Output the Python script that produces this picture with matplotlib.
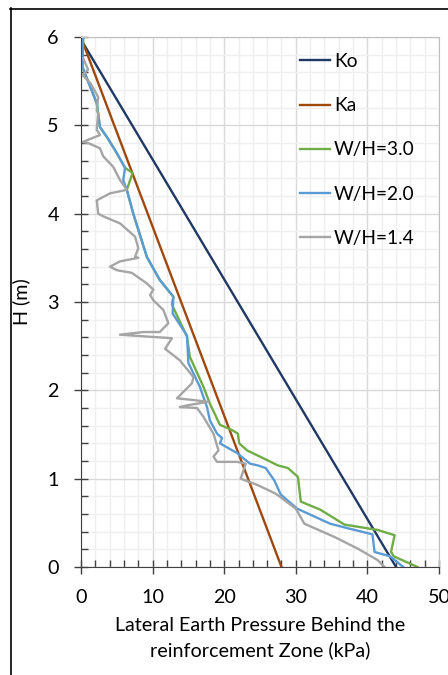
import matplotlib
matplotlib.use("Agg")
import matplotlib.pyplot as plt
from matplotlib.lines import Line2D
from matplotlib.ticker import MultipleLocator

plt.rcParams['font.family'] = ['Lato', 'DejaVu Sans']

# theoretical lines (pressure kPa, height m)
ko_x = [0.3, 44.0]
ko_h = [5.93, 0.0]
ka_x = [0.3, 28.0]
ka_h = [5.93, 0.0]

# W/H = 3.0
wh30_x = [0.3, 0.2, 2.2, 2.65, 3.6, 4.75, 6.15, 7.2, 6.4, 7.3, 9.2, 11.0, 12.9, 12.7,
          14.8, 15.2, 17.1, 18.0, 19.4, 21.1, 21.9, 22.1, 23.2, 26.0, 27.5, 28.9, 30.3,
          30.7, 33.4, 36.8, 41.4, 43.8, 43.3, 43.7, 47.0]
wh30_h = [6.0, 5.66, 5.25, 4.98, 4.87, 4.72, 4.52, 4.46, 4.27, 4.0, 3.51, 3.25, 3.06, 2.97,
          2.61, 2.38, 2.04, 1.85, 1.61, 1.55, 1.51, 1.40, 1.32, 1.21, 1.15, 1.12, 1.02,
          0.74, 0.65, 0.48, 0.42, 0.36, 0.17, 0.12, 0.0]

# W/H = 2.0
wh20_x = [0.3, 0.2, 2.2, 2.65, 3.6, 4.75, 6.15, 5.9, 6.4, 7.3, 9.2, 11.0, 12.9, 12.8,
          14.8, 15.0, 16.6, 17.6, 18.0, 19.0, 19.7, 19.4, 21.8, 23.6, 24.7, 25.8, 27.0,
          27.9, 30.2, 34.8, 37.2, 40.7, 41.0, 43.2, 45.0]
wh20_h = [6.0, 5.66, 5.25, 4.98, 4.87, 4.72, 4.52, 4.38, 4.27, 4.0, 3.51, 3.25, 3.06, 2.87,
          2.62, 2.31, 2.04, 1.81, 1.66, 1.51, 1.46, 1.40, 1.29, 1.17, 1.15, 1.12, 0.98,
          0.82, 0.66, 0.49, 0.44, 0.37, 0.17, 0.12, 0.0]

# W/H = 1.4
wh14_x = [0.3, 1.0, 0.2, 1.3, 2.4, 2.2, 2.4, 2.2, 2.65, 0.8, 0.2, 1.0, 2.65, 3.1, 4.5,
          5.45, 6.4, 4.05, 2.2, 2.4, 3.1, 5.45, 7.55, 8.0, 7.55, 8.0, 5.45, 4.05, 5.0,
          7.1, 9.2, 10.1, 9.65, 10.1, 11.5, 12.2, 11.0, 8.7, 5.45, 12.7, 11.75, 13.8,
          15.7, 15.5, 13.4, 15.7, 17.8, 14.8, 13.8, 16.2, 17.1, 18.5, 19.2, 18.5, 19.0,
          21.8, 23.0, 22.3, 24.6, 27.2, 30.0, 31.2, 35.4, 38.6, 41.4, 42.4]
wh14_h = [5.76, 5.63, 5.57, 5.48, 5.32, 5.17, 5.14, 4.95, 4.89, 4.83, 4.81, 4.80, 4.74,
          4.65, 4.53, 4.38, 4.27, 4.23, 4.15, 4.0, 3.97, 3.89, 3.74, 3.61, 3.51, 3.50,
          3.46, 3.40, 3.36, 3.33, 3.21, 3.14, 3.08, 3.02, 2.91, 2.76, 2.66, 2.66, 2.63,
          2.59, 2.47, 2.34, 2.15, 2.08, 1.91, 1.89, 1.87, 1.83, 1.81, 1.80, 1.70, 1.51,
          1.32, 1.25, 1.19, 1.19, 1.17, 1.00, 0.93, 0.83, 0.66, 0.49, 0.34, 0.21, 0.08, 0.0]

fig = plt.figure(figsize=(4.48, 6.75), dpi=100)
ax = fig.add_axes([81 / 448, 108 / 675, 358 / 448, 530 / 675])

lw = 1.7
ax.plot(ko_x, ko_h, color='#203864', lw=lw, label='Ko')
ax.plot(ka_x, ka_h, color='#9E480E', lw=lw, label='Ka')
ax.plot(wh30_x, wh30_h, color='#70AD47', lw=lw, label='W/H=3.0')
ax.plot(wh20_x, wh20_h, color='#5B9BD5', lw=lw, label='W/H=2.0')
ax.plot(wh14_x, wh14_h, color='#A5A5A5', lw=lw, label='W/H=1.4')

ax.set_xlim(0, 50)
ax.set_ylim(0, 6)
ax.xaxis.set_major_locator(MultipleLocator(10))
ax.xaxis.set_minor_locator(MultipleLocator(2))
ax.yaxis.set_major_locator(MultipleLocator(1))
ax.yaxis.set_minor_locator(MultipleLocator(0.2))

ax.grid(which='major', color='#d9d9d9', lw=1.0)
ax.grid(which='minor', color='#efefef', lw=1.0)
ax.set_axisbelow(True)

fs = 14.2
ax.tick_params(which='major', direction='inout', length=10, width=1, color='#404040',
               labelsize=fs, pad=11)
ax.tick_params(which='minor', direction='in', length=5, width=1, color='#404040')
ax.tick_params(axis='both', which='both', top=False, right=False)

for s in ['left', 'bottom']:
    ax.spines[s].set_color('#404040')
for s in ['top', 'right']:
    ax.spines[s].set_color('#bfbfbf')

ax.set_xlabel('Lateral Earth Pressure Behind the\nreinforcement Zone (kPa)', fontsize=fs,
              labelpad=8, linespacing=1.45)
ax.set_ylabel('H (m)', fontsize=fs, labelpad=12)

ax.legend(loc='upper right', frameon=False, fontsize=fs - 0.4, handlelength=1.6,
          handletextpad=0.2, labelspacing=1.42, bbox_to_anchor=(0.97, 0.995),
          borderaxespad=0.3)

# outer chart border (cropped)
fig.add_artist(Line2D([10.5 / 448, 10.5 / 448], [0, 1 - 8 / 675], color='black', lw=1.2,
                      transform=fig.transFigure))
fig.add_artist(Line2D([10 / 448, 1], [1 - 8.5 / 675, 1 - 8.5 / 675], color='black', lw=1.2,
                      transform=fig.transFigure))

fig.savefig('out.png', dpi=100)
